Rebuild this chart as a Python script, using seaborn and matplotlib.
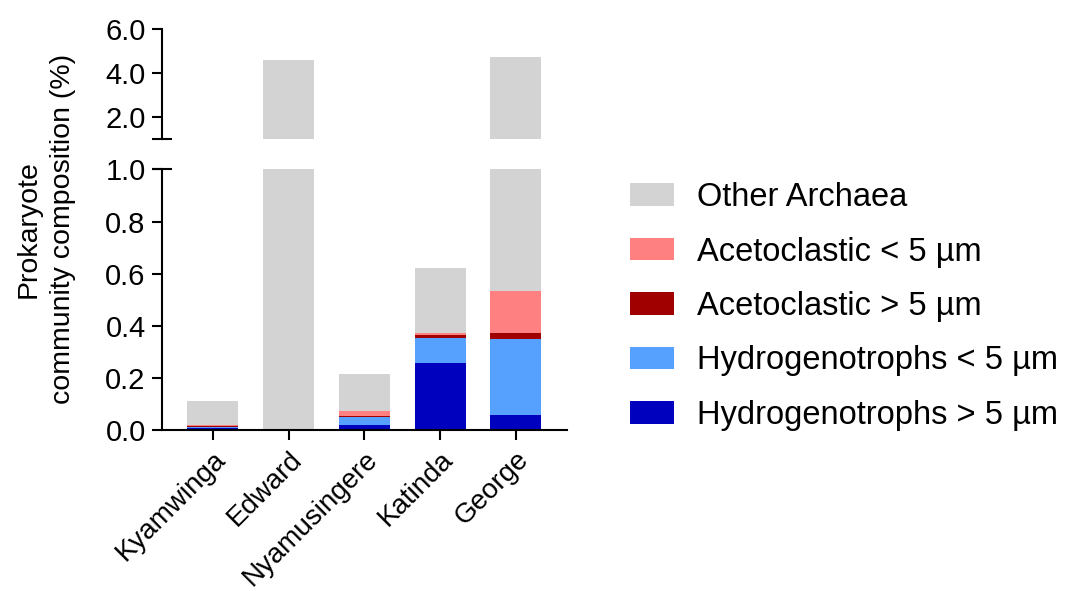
import numpy as np
import pandas as pd
import matplotlib
matplotlib.use("Agg")
import matplotlib.pyplot as plt
from matplotlib.patches import Patch
import seaborn as sns

# Lakes and relative abundance (%) of each archaeal group
sites = ["Kyamwinga", "Edward", "Nyamusingere", "Katinda", "George"]
hydro_gt5 = [0.009, 0.0, 0.020, 0.260, 0.061]
hydro_lt5 = [0.005, 0.0, 0.033, 0.095, 0.290]
aceto_gt5 = [0.005, 0.0, 0.003, 0.011, 0.023]
aceto_lt5 = [0.001, 0.0, 0.018, 0.008, 0.160]
other_archaea = [0.094, 4.60, 0.142, 0.248, 4.216]

group_names = ["Hydrogenotrophs > 5 µm", "Hydrogenotrophs < 5 µm",
               "Acetoclastic > 5 µm", "Acetoclastic < 5 µm", "Other Archaea"]
group_colors = ["#0000BF", "#56A0FE", "#A00000", "#FF8080", "#D3D3D3"]

lower_ticks = [0.0, 0.2, 0.4, 0.6, 0.8, 1.0]
upper_ticks = [2.0, 4.0, 6.0]

sns.set_theme(style="ticks")
plt.rcParams["font.family"] = ["Liberation Sans", "DejaVu Sans"]
plt.rcParams["text.color"] = "black"

df = pd.DataFrame({
    "site": sites,
    group_names[0]: hydro_gt5,
    group_names[1]: hydro_lt5,
    group_names[2]: aceto_gt5,
    group_names[3]: aceto_lt5,
    group_names[4]: other_archaea,
})
cum = df[group_names].cumsum(axis=1)
cum["site"] = df["site"]

fig = plt.figure(figsize=(10.68, 5.91), dpi=100)
ax_lo = fig.add_axes([0.1514, 0.2716, 0.3792, 0.442])
ax_hi = fig.add_axes([0.1514, 0.7653, 0.3792, 0.1851])

bar_w = 0.673
for ax in (ax_lo, ax_hi):
    # draw cumulative totals from the top layer down so the bars stack
    for name, col in zip(reversed(group_names), reversed(group_colors)):
        sns.barplot(data=cum, x="site", y=name, order=sites, color=col,
                    saturation=1, width=bar_w, linewidth=0, ax=ax)
    ax.set_xlim(-0.673, 4.669)
    ax.set_ylabel("")
    ax.set_xlabel("")

lw = 1.5
ytick_fs = 21
xtick_fs = 20

ax_lo.set_ylim(0, 1.0)
ax_lo.set_yticks(lower_ticks)
ax_lo.set_yticklabels([f"{t:.1f}" for t in lower_ticks])
ax_lo.set_xticks(range(len(sites)))
ax_lo.set_xticklabels(sites, rotation=45, ha="right", rotation_mode="anchor")
ax_lo.spines["top"].set_visible(False)
ax_lo.spines["right"].set_visible(False)
ax_lo.spines["left"].set_linewidth(lw)
ax_lo.spines["bottom"].set_linewidth(lw)
ax_lo.tick_params(axis="y", labelsize=ytick_fs, width=lw, length=7.5,
                  color="black", labelcolor="black", pad=4)
ax_lo.tick_params(axis="x", labelsize=xtick_fs, width=lw, length=7.5,
                  color="black", labelcolor="black", pad=4)

ax_hi.set_ylim(1.0, 6.0)
ax_hi.set_yticks(upper_ticks)
ax_hi.set_yticklabels([f"{t:.1f}" for t in upper_ticks])
ax_hi.set_xticks([])
for s in ("top", "right", "bottom"):
    ax_hi.spines[s].set_visible(False)
ax_hi.spines["left"].set_linewidth(lw)
ax_hi.tick_params(axis="y", labelsize=ytick_fs, width=lw, length=7.5,
                  color="black", labelcolor="black", pad=4)
for sp in list(ax_lo.spines.values()) + list(ax_hi.spines.values()):
    sp.set_color("black")

# axis-break caps on the left spine
half = 10 / (0.3792 * 1068)
ax_lo.plot([-half, half], [1, 1], transform=ax_lo.transAxes, color="black",
           lw=lw, clip_on=False, solid_capstyle="butt")
ax_hi.plot([-half, half], [0, 0], transform=ax_hi.transAxes, color="black",
           lw=lw, clip_on=False, solid_capstyle="butt")

fig.text(0.0426, 1 - 229 / 591, "Prokaryote\ncommunity composition (%)",
         rotation=90, ha="center", va="center", fontsize=20.5,
         linespacing=1.42, color="black")

handles = [Patch(facecolor=c, edgecolor="none", label=n)
           for n, c in zip(reversed(group_names), reversed(group_colors))]
fig.legend(handles=handles, loc="upper left",
           bbox_to_anchor=(630 / 1068, 1 - 182 / 591),
           frameon=False, fontsize=23.5, borderpad=0, borderaxespad=0,
           handlelength=1.35, handleheight=0.68, handletextpad=0.7,
           labelspacing=0.72, labelcolor="black")

fig.savefig("out.png", dpi=100, facecolor="white")
